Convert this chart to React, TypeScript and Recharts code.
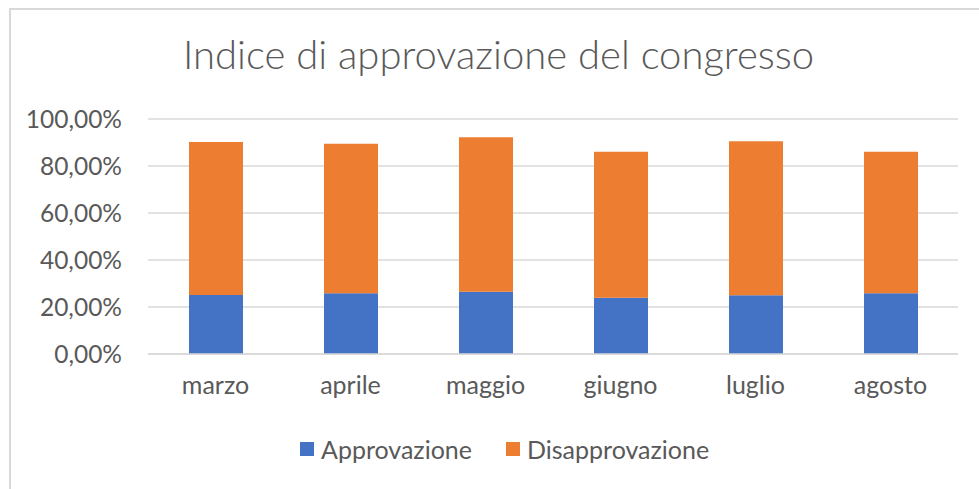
import React from "react";
import { BarChart, Bar, XAxis, YAxis, CartesianGrid, Legend } from "recharts";

const months = ["marzo", "aprile", "maggio", "giugno", "luglio", "agosto"];
const approvazione = [25.1, 25.9, 26.5, 23.9, 25.0, 25.9];
const disapprovazione = [65.1, 63.6, 65.7, 62.2, 65.5, 60.2];
const yTicks = [0, 20, 40, 60, 80, 100];

const data = months.map((m, i) => ({
  month: m,
  Approvazione: approvazione[i],
  Disapprovazione: disapprovazione[i],
}));

const FONT = "Lato, 'Noto Sans', sans-serif";
const TEXT = "#595959";
const BLUE = "#4472C4";
const ORANGE = "#ED7D31";

const fmt = (v: number) => v.toFixed(2).replace(".", ",") + "%";

const LegendContent = () => (
  <div
    style={{
      display: "flex",
      justifyContent: "flex-start",
      fontFamily: FONT,
      fontSize: 25,
      color: TEXT,
      paddingLeft: 300,
      lineHeight: "30px",
    }}
  >
    <div style={{ display: "flex", alignItems: "center", marginRight: 34 }}>
      <span style={{ width: 14, height: 14, background: BLUE, display: "inline-block", marginRight: 7 }} />
      <span>Approvazione</span>
    </div>
    <div style={{ display: "flex", alignItems: "center" }}>
      <span style={{ width: 14, height: 14, background: ORANGE, display: "inline-block", marginRight: 7 }} />
      <span>Disapprovazione</span>
    </div>
  </div>
);

export default function App() {
  return (
    <div style={{ position: "absolute", left: 0, top: 0, width: 979, height: 489, background: "#fff", overflow: "hidden" }}>
      <div
        style={{
          position: "absolute",
          left: 9,
          top: 8,
          width: 1000,
          height: 500,
          borderTop: "2px solid #d9d9d9",
          borderLeft: "2px solid #d9d9d9",
        }}
      />
      <div
        style={{
          position: "absolute",
          left: 0,
          top: 30,
          width: 997,
          textAlign: "center",
          fontFamily: FONT,
          fontWeight: 300,
          fontSize: 40,
          color: TEXT,
        }}
      >
        Indice di approvazione del congresso
      </div>
      <BarChart
        width={979}
        height={489}
        data={data}
        margin={{ top: 119, right: 21, bottom: 70, left: 0 }}
        barSize={54}
      >
        <CartesianGrid vertical={false} stroke="#d9d9d9" strokeWidth={1.5} />
        <XAxis
          dataKey="month"
          axisLine={{ stroke: "#d9d9d9", strokeWidth: 1.5 }}
          tickLine={false}
          tick={{ fill: TEXT, fontSize: 25, fontFamily: FONT }}
          tickMargin={16}
          height={35}
        />
        <YAxis
          domain={[0, 100]}
          ticks={yTicks}
          tickFormatter={fmt}
          axisLine={false}
          tickLine={false}
          width={148}
          tick={{ fill: TEXT, fontSize: 24.5, fontFamily: FONT }}
          tickMargin={20}
        />
        <Legend content={<LegendContent />} verticalAlign="bottom" height={30} wrapperStyle={{ left: 0, top: 434, width: 979 }} />
        <Bar dataKey="Approvazione" stackId="a" fill={BLUE} isAnimationActive={false} />
        <Bar dataKey="Disapprovazione" stackId="a" fill={ORANGE} isAnimationActive={false} />
      </BarChart>
    </div>
  );
}
